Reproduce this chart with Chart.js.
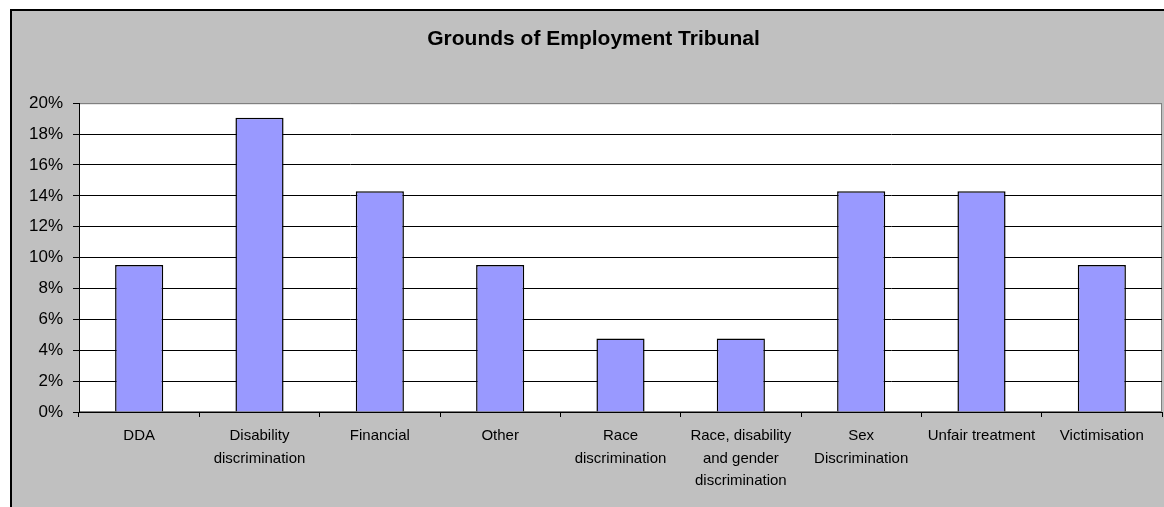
<!DOCTYPE html>
<html>
<head>
<meta charset="utf-8">
<script src="https://cdn.jsdelivr.net/npm/chart.js@4/dist/chart.umd.min.js"></script>
<style>
  html, body { margin: 0; padding: 0; background: #fff; overflow: hidden; width: 1164px; height: 507px; }
  #frame {
    position: absolute; left: 10px; top: 9px; width: 1180px; height: 520px;
    background: #c0c0c0; border-left: 2px solid #000; border-top: 2px solid #000;
  }
  #tribunalChart { position: absolute; left: 0; top: 0; }
</style>
</head>
<body>
<div id="frame"><canvas id="tribunalChart" width="1165" height="496"></canvas></div>
<script>
"use strict";

// share of cases by ground (percent)
const categories = [
    'DDA',
    ['Disability', 'discrimination'],
    'Financial',
    'Other',
    ['Race', 'discrimination'],
    ['Race, disability', 'and gender', 'discrimination'],
    ['Sex', 'Discrimination'],
    'Unfair treatment',
    'Victimisation'
];
const shares = [9.52, 19.05, 14.29, 9.52, 4.76, 4.76, 14.29, 14.29, 9.52];
const yTicks = [0, 2, 4, 6, 8, 10, 12, 14, 16, 18, 20];

const fontFamily = '"Liberation Sans", Arial, sans-serif';

// white plot area with a grey frame, drawn under the grid
const plotBackground = {
    id: 'plotBackground',
    beforeDraw(chart) {
        const { ctx, chartArea: a } = chart;
        ctx.save();
        ctx.fillStyle = '#ffffff';
        ctx.fillRect(a.left, a.top, a.right - a.left, a.bottom - a.top);
        ctx.strokeStyle = '#808080';
        ctx.lineWidth = 1;
        ctx.strokeRect(a.left + 0.5, a.top + 0.5, a.right - a.left - 1, a.bottom - a.top - 1);
        ctx.restore();
    }
};

const config = {
    type: 'bar',
    data: {
        labels: categories,
        datasets: [{
            data: shares,
            backgroundColor: '#9999ff',
            borderColor: '#000000',
            borderWidth: 1.5,
            barPercentage: 0.4,
            categoryPercentage: 1.0
        }]
    },
    options: {
        responsive: false,
        animation: false,
        // the left padding shifts the title centre to the middle of the whole sheet
        layout: { padding: { left: 13, right: 15, top: 0, bottom: 0 } },
        plugins: {
            legend: { display: false },
            tooltip: { enabled: false },
            title: {
                display: true,
                text: 'Grounds of Employment Tribunal',
                color: '#000',
                font: { family: fontFamily, size: 21, weight: 'bold' },
                padding: { top: 16, bottom: 51 }
            }
        },
        scales: {
            x: {
                offset: true,
                grid: {
                    offset: true,
                    drawOnChartArea: false,
                    drawTicks: true,
                    tickLength: 5,
                    color: '#000'
                },
                border: { color: '#000', width: 1 },
                ticks: {
                    color: '#000',
                    maxRotation: 0,
                    autoSkip: false,
                    padding: 8,
                    font: { family: fontFamily, size: 15, lineHeight: 1.5 }
                },
                afterFit(scale) { scale.height = 95; }
            },
            y: {
                min: 0,
                max: 20,
                afterBuildTicks(scale) { scale.ticks = yTicks.map(v => ({ value: v })); },
                grid: {
                    color: ctx => (ctx.tick && ctx.tick.value === 20 ? '#808080' : '#000'),
                    tickColor: '#000',
                    tickLength: 6
                },
                border: { color: '#000', width: 1 },
                ticks: {
                    color: '#000',
                    padding: 10,
                    font: { family: fontFamily, size: 17 },
                    callback: v => v + '%'
                },
                afterFit(scale) { scale.width = 54; }
            }
        }
    },
    plugins: [plotBackground]
};

const tribunalChart = new Chart(document.getElementById('tribunalChart'), config);
</script>
</body>
</html>
